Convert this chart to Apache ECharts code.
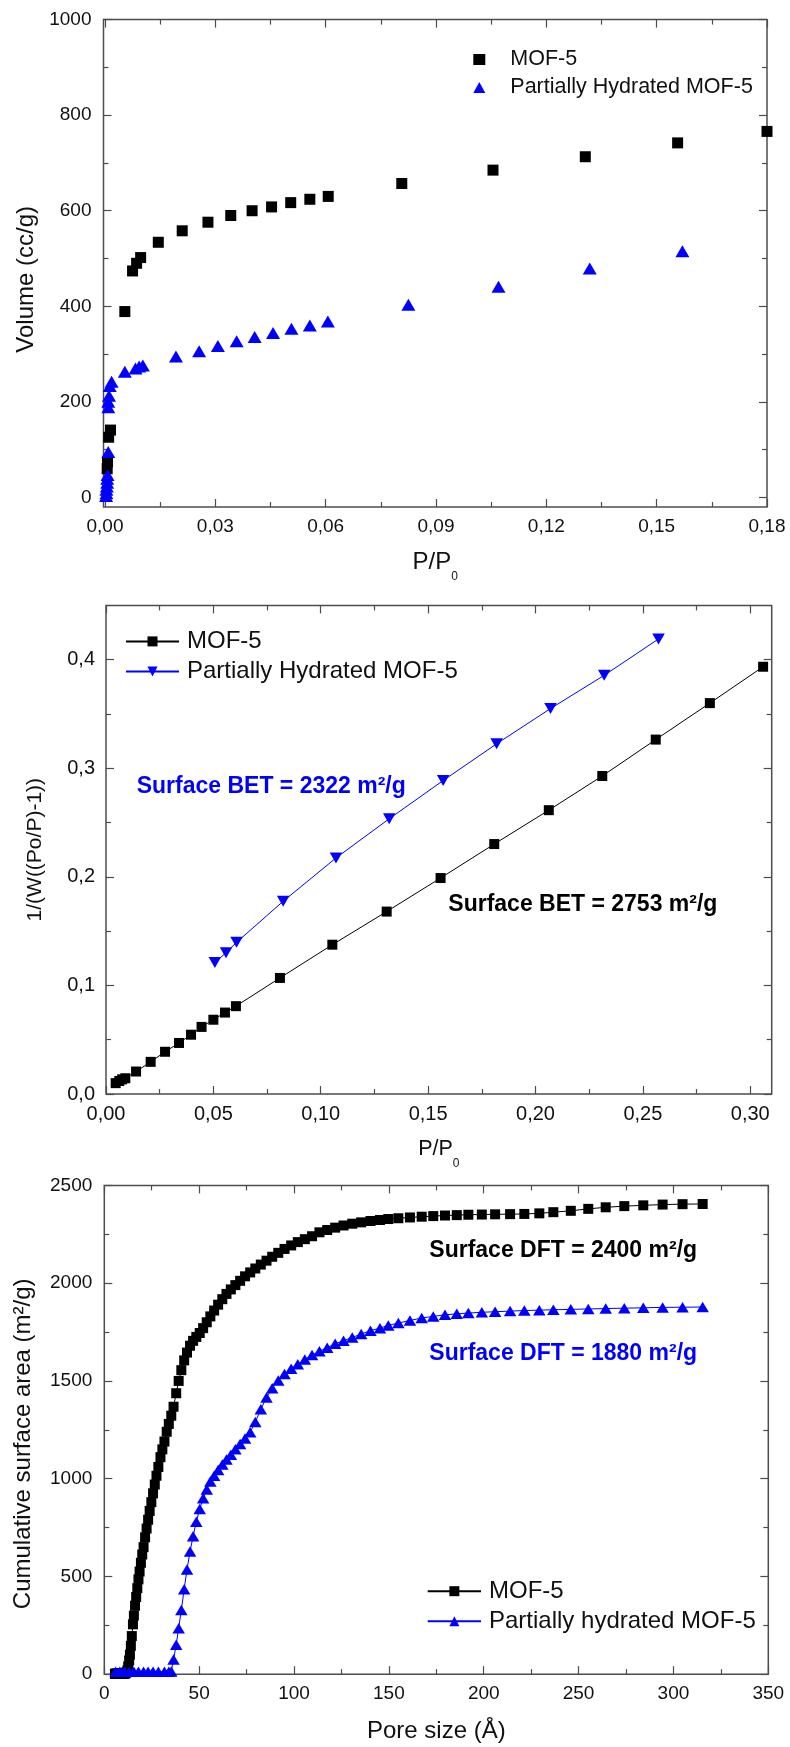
<!DOCTYPE html>
<html><head><meta charset="utf-8">
<script src="https://cdn.jsdelivr.net/npm/echarts@6/dist/echarts.min.js"></script>
<style>html,body{margin:0;padding:0;background:#fff}#c{width:790px;height:1747px}</style>
</head><body><div id="c"></div>
<script>
// ---------- Panel 1: N2 adsorption isotherm ----------
const isoP_MOF5 = [0.0006, 0.0007, 0.0010, 0.0015, 0.0054, 0.0075, 0.0086, 0.0097, 0.0145, 0.0210, 0.0280, 0.0342, 0.0400, 0.0453, 0.0505, 0.0557, 0.0607, 0.0807, 0.1055, 0.1306, 0.1557, 0.1800];
const isoV_MOF5 = [60, 74, 126, 141, 389, 474, 490, 502, 534, 558, 576, 590, 600, 608, 617, 624, 630, 657, 685, 713, 742, 766];
const isoP_Hyd = [0.0003, 0.0004, 0.0004, 0.0005, 0.0006, 0.0006, 0.0007, 0.0009, 0.0009, 0.0009, 0.0011, 0.0013, 0.0018, 0.0054, 0.0083, 0.0093, 0.0103, 0.0193, 0.0256, 0.0307, 0.0358, 0.0407, 0.0457, 0.0507, 0.0557, 0.0606, 0.0825, 0.1070, 0.1318, 0.1570];
const isoV_Hyd = [3, 9, 16, 23, 31, 39, 47, 95, 189, 200, 213, 233, 242, 263, 270, 274, 276, 295, 306, 317, 327, 336, 344, 353, 360, 368, 403, 441, 479, 515];
const isoXTicks = [0, 0.03, 0.06, 0.09, 0.12, 0.15, 0.18];
const isoXMinor = [0.015, 0.045, 0.075, 0.105, 0.135, 0.165];
const isoYTicks = [0, 200, 400, 600, 800, 1000];
const isoYMinor = [100, 300, 500, 700, 900];

// ---------- Panel 2: BET plot ----------
const betP_MOF5 = [0.0045, 0.0062, 0.0075, 0.0090, 0.0140, 0.0208, 0.0275, 0.0340, 0.0396, 0.0445, 0.0500, 0.0554, 0.0605, 0.0810, 0.1054, 0.1307, 0.1558, 0.1808, 0.2062, 0.2311, 0.2560, 0.2812, 0.3060];
const betY_MOF5 = [0.0100, 0.0120, 0.0135, 0.0145, 0.0207, 0.0296, 0.0389, 0.0470, 0.0546, 0.0618, 0.0684, 0.0750, 0.0809, 0.1069, 0.1375, 0.1680, 0.1989, 0.2302, 0.2614, 0.2929, 0.3264, 0.3600, 0.3935];
const betP_Hyd = [0.0507, 0.0559, 0.0608, 0.0825, 0.1071, 0.1319, 0.1570, 0.1819, 0.2070, 0.2320, 0.2573];
const betY_Hyd = [0.1210, 0.1302, 0.1397, 0.1775, 0.2174, 0.2535, 0.2887, 0.3225, 0.3550, 0.3856, 0.4191];
const betXTicks = [0, 0.05, 0.10, 0.15, 0.20, 0.25, 0.30];
const betXMinor = [0.025, 0.075, 0.125, 0.175, 0.225, 0.275];
const betYTicks = [0, 0.1, 0.2, 0.3, 0.4];
const betYMinor = [0.05, 0.15, 0.25, 0.35];

// ---------- Panel 3: cumulative DFT surface area ----------
const pore_MOF5 = [5.6, 5.8, 6.0, 6.2, 6.4, 6.6, 6.9, 7.1, 7.4, 7.7,
  7.9, 8.2, 8.5, 8.8, 9.2, 9.5, 9.8, 10.2, 10.6, 10.9,
  11.3, 11.7, 12.2, 12.6, 13.1, 13.5, 14.0, 14.5, 15.1, 15.6,
  16.2, 16.8, 17.4, 18.0, 18.6, 19.3, 20.0, 20.7, 21.5, 22.3,
  23.1, 23.9, 24.8, 25.7, 26.6, 27.5, 28.5, 29.6, 30.6, 31.7,
  32.9, 34.0, 35.3, 36.5, 37.9, 39.2, 40.6, 42.1, 43.6, 45.2,
  46.8, 48.5, 50.3, 52.1, 54.0, 55.9, 57.9, 60.0, 62.2, 64.4,
  66.7, 69.1, 71.6, 74.2, 76.9, 79.6, 82.5, 85.5, 88.5, 91.7,
  95.0, 98.5, 102.0, 105.7, 109.5, 113.4, 117.5, 121.7, 126.1, 130.7,
  135.4, 140.3, 145.3, 149.7, 155.0, 161.1, 167.3, 173.4, 179.6, 185.8,
  191.9, 199.0, 206.0, 213.9, 221.4, 229.3, 236.7, 245.9, 255.1, 264.3,
  274.1, 284.1, 294.3, 304.8, 315.4];
const area_MOF5 = [2, 2, 2, 2, 2, 2, 2, 2, 2, 2,
  2, 2, 2, 2, 2, 3, 3, 3, 3, 4,
  5, 10, 20, 40, 70, 100, 145, 195, 255, 300,
  350, 395, 440, 485, 525, 570, 612, 650, 700, 745,
  790, 835, 880, 925, 970, 1015, 1060, 1110, 1150, 1190,
  1240, 1280, 1322, 1368, 1437, 1500, 1555, 1605, 1645, 1680,
  1705, 1725, 1745, 1770, 1800, 1830, 1860, 1890, 1918, 1945,
  1968, 1990, 2012, 2035, 2055, 2075, 2095, 2115, 2135, 2155,
  2175, 2193, 2210, 2225, 2240, 2260, 2272, 2284, 2295, 2304,
  2311, 2318, 2323, 2328, 2332, 2336, 2340, 2343, 2346, 2348,
  2350, 2351, 2352, 2353, 2354, 2357, 2363, 2370, 2380, 2388,
  2394, 2398, 2402, 2404, 2405];
const pore_Hyd = [6.0, 8.2, 10.6, 13.1, 15.6, 18.0, 20.7, 23.1, 25.7, 28.5, 31.7, 34.0,
  35.3, 36.5, 37.9, 39.2, 40.6, 42.1, 43.6, 45.2,
  46.8, 48.5, 50.3, 52.1, 54.0, 55.9, 57.9, 60.0, 62.2, 64.4,
  66.7, 69.1, 71.6, 74.2, 76.9, 79.6, 82.5, 85.5, 88.5, 91.7,
  95.0, 98.5, 102.0, 105.7, 109.5, 113.4, 117.5, 121.7, 126.1, 130.7,
  135.4, 140.3, 145.3, 149.7, 155.0, 161.1, 167.3, 173.4, 179.6, 185.8,
  191.9, 199.0, 206.0, 213.9, 221.4, 229.3, 236.7, 245.9, 255.1, 264.3,
  274.1, 284.1, 294.3, 304.8, 315.4];
const area_Hyd = [12, 12, 12, 12, 12, 12, 12, 12, 12, 12, 12, 12,
  14, 75, 150, 235, 328, 435, 535, 628,
  705, 780, 845, 900, 945, 985, 1015, 1045, 1072, 1098,
  1122, 1150, 1178, 1205, 1238, 1290, 1355, 1415, 1462, 1502,
  1535, 1562, 1585, 1610, 1632, 1652, 1670, 1690, 1706, 1722,
  1740, 1757, 1770, 1784, 1796, 1809, 1822, 1830, 1838, 1843,
  1847, 1851, 1854, 1857, 1860, 1862, 1864, 1866, 1868, 1870,
  1872, 1874, 1876, 1877, 1878];
const dftXTicks = [0, 50, 100, 150, 200, 250, 300, 350];
const dftXMinor = [25, 75, 125, 175, 225, 275, 325];
const dftYTicks = [0, 500, 1000, 1500, 2000, 2500];
const dftYMinor = [250, 750, 1250, 1750, 2250];

// ---------- helpers ----------
const FONT = '"Liberation Sans", Arial, Helvetica, sans-serif';
const AX = '#4d4d4d';
const TXT = '#111';
const BLUE = '#0000ff';
const comma = d => v => v.toFixed(d).replace('.', ',');
const pairs = (xs, ys) => xs.map((x, i) => [x, ys[i]]);
const stripName = n => n.split('|')[0];

function axisSet(dim, grid, o) {
  const posMain = dim === 'x' ? 'bottom' : 'left';
  const posOpp = dim === 'x' ? 'top' : 'right';
  const base = () => ({
    type: 'value', gridIndex: grid, min: o.min, max: o.max,
    axisLine: { show: false, onZero: false },
    splitLine: { show: false }, minorTick: { show: false }, minorSplitLine: { show: false }
  });
  const tick = (vals, len) => ({ show: true, inside: true, length: len, customValues: vals, lineStyle: { color: AX, width: 1.2 } });
  const main = Object.assign(base(), {
    position: posMain, axisTick: tick(o.major, 8),
    axisLabel: { show: true, customValues: o.major, formatter: o.fmt, fontSize: o.fs, color: TXT, fontFamily: FONT, margin: o.margin },
    name: o.name, nameLocation: 'middle', nameGap: o.nameGap, nameTextStyle: o.nameStyle
  });
  return [
    main,
    Object.assign(base(), { position: posMain, axisTick: tick(o.minor, 5), axisLabel: { show: false } }),
    Object.assign(base(), { position: posOpp, axisTick: tick(o.major, 8), axisLabel: { show: false } }),
    Object.assign(base(), { position: posOpp, axisTick: tick(o.minor, 5), axisLabel: { show: false } })
  ];
}
const ppName = (fs, lh) => ({
  fontSize: fs, fontFamily: FONT, color: TXT, lineHeight: lh,
  rich: { sub: { fontSize: 12, lineHeight: 12, verticalAlign: 'bottom', fontFamily: FONT, color: TXT } }
});

const grids = [
  { left: 103.5, top: 19.6, width: 663.5, height: 487.4 },
  { left: 106, top: 605.4, width: 665.7, height: 488.6 },
  { left: 104.3, top: 1185.4, width: 664, height: 488.8 }
].map(g => Object.assign({ show: true, borderColor: AX, borderWidth: 1.5, backgroundColor: 'transparent', containLabel: false, outerBoundsMode: 'none' }, g));

const xAxes = [
  ...axisSet('x', 0, { min: -0.0004, max: 0.18, major: isoXTicks, minor: isoXMinor, fmt: comma(2), fs: 19, margin: 10,
    name: 'P/P{sub|0}', nameGap: 34, nameStyle: ppName(24, 42) }),
  ...axisSet('x', 1, { min: 0, max: 0.31, major: betXTicks, minor: betXMinor, fmt: comma(2), fs: 20, margin: 10,
    name: 'P/P{sub|0}', nameGap: 34, nameStyle: ppName(21.5, 42) }),
  ...axisSet('x', 2, { min: 0, max: 350, major: dftXTicks, minor: dftXMinor, fmt: v => String(v), fs: 19, margin: 10,
    name: 'Pore size (Å)', nameGap: 45, nameStyle: { fontSize: 24, fontFamily: FONT, color: TXT } })
];
const yAxes = [
  ...axisSet('y', 0, { min: -20, max: 1000, major: isoYTicks, minor: isoYMinor, fmt: v => String(v), fs: 19, margin: 12,
    name: 'Volume (cc/g)', nameGap: 58, nameStyle: { fontSize: 24, fontFamily: FONT, color: TXT, padding: [0, 32, 0, 0] } }),
  ...axisSet('y', 1, { min: 0, max: 0.45, major: betYTicks, minor: betYMinor, fmt: comma(1), fs: 20, margin: 11,
    name: '1/(W((Po/P)-1))', nameGap: 60, nameStyle: { fontSize: 21, fontFamily: FONT, color: TXT } }),
  ...axisSet('y', 2, { min: 0, max: 2500, major: dftYTicks, minor: dftYMinor, fmt: v => String(v), fs: 19, margin: 12,
    name: 'Cumulative surface area (m²/g)', nameGap: 69, nameStyle: { fontSize: 24, fontFamily: FONT, color: TXT, padding: [0, 28, 0, 0] } })
];

const downTri = 'path://M0,0L12,0L6,11Z';
const series = [
  { name: 'MOF-5|a', type: 'scatter', xAxisIndex: 0, yAxisIndex: 0, data: pairs(isoP_MOF5, isoV_MOF5),
    symbol: 'rect', symbolSize: 11, itemStyle: { color: '#000', opacity: 1 }, clip: false },
  { name: 'Partially Hydrated MOF-5|a', type: 'scatter', xAxisIndex: 0, yAxisIndex: 0, data: pairs(isoP_Hyd, isoV_Hyd),
    symbol: 'triangle', symbolSize: [14, 12], itemStyle: { color: BLUE, opacity: 1 }, clip: false },
  { name: 'MOF-5|b', type: 'line', xAxisIndex: 4, yAxisIndex: 4, data: pairs(betP_MOF5, betY_MOF5),
    symbol: 'rect', symbolSize: 10, showAllSymbol: true, lineStyle: { color: '#000', width: 1 }, itemStyle: { color: '#000' } },
  { name: 'Partially Hydrated MOF-5|b', type: 'line', xAxisIndex: 4, yAxisIndex: 4, data: pairs(betP_Hyd, betY_Hyd),
    symbol: downTri, symbolSize: [12.5, 11], showAllSymbol: true, lineStyle: { color: BLUE, width: 1 }, itemStyle: { color: BLUE } },
  { name: 'MOF-5|c', type: 'line', xAxisIndex: 8, yAxisIndex: 8, data: pairs(pore_MOF5, area_MOF5),
    symbol: 'rect', symbolSize: 10, showAllSymbol: true, lineStyle: { color: '#000', width: 1 }, itemStyle: { color: '#000' } },
  { name: 'Partially hydrated MOF-5|c', type: 'line', xAxisIndex: 8, yAxisIndex: 8, data: pairs(pore_Hyd, area_Hyd),
    symbol: 'triangle', symbolSize: [12.5, 10.5], showAllSymbol: true, lineStyle: { color: BLUE, width: 1 }, itemStyle: { color: BLUE } }
];

const legendBase = { orient: 'vertical', padding: 0, itemGap: 6, selectedMode: false, formatter: stripName };
const legends = [
  Object.assign({}, legendBase, { left: 473.3, top: 48.5, itemWidth: 12, itemHeight: 11,
    textStyle: { fontSize: 21.5, lineHeight: 22, fontFamily: FONT, color: TXT, padding: [0, 0, 0, 20] },
    data: ['MOF-5|a', 'Partially Hydrated MOF-5|a'] }),
  Object.assign({}, legendBase, { left: 125, top: 629.4, itemWidth: 53, itemHeight: 12.5,
    textStyle: { fontSize: 24, lineHeight: 24, fontFamily: FONT, color: TXT, padding: [0, 0, 0, 3] },
    data: ['MOF-5|b', 'Partially Hydrated MOF-5|b'] }),
  Object.assign({}, legendBase, { left: 426.7, top: 1579.2, itemWidth: 53.3, itemHeight: 12.5,
    textStyle: { fontSize: 24, lineHeight: 24, fontFamily: FONT, color: TXT, padding: [0, 0, 0, 3] },
    data: ['MOF-5|c', 'Partially hydrated MOF-5|c'] })
];

const note = (text, x, y, color) => ({
  type: 'text', x: x, y: y, silent: true,
  style: { text: text, fontSize: 23, fontWeight: 'bold', fontFamily: FONT, fill: color, align: 'left', verticalAlign: 'middle' }
});

const chart = echarts.init(document.getElementById('c'), null, { renderer: 'canvas', width: 790, height: 1747 });
chart.setOption({
  animation: false,
  backgroundColor: '#fff',
  grid: grids,
  xAxis: xAxes,
  yAxis: yAxes,
  legend: legends,
  series: series,
  graphic: [
    note('Surface BET = 2322 m²/g', 136.7, 786.8, BLUE),
    note('Surface BET = 2753 m²/g', 448.3, 904.6, '#000'),
    note('Surface DFT = 2400 m²/g', 429.3, 1250.5, '#000'),
    note('Surface DFT = 1880 m²/g', 429.3, 1353.6, BLUE)
  ]
});
</script>
</body></html>
